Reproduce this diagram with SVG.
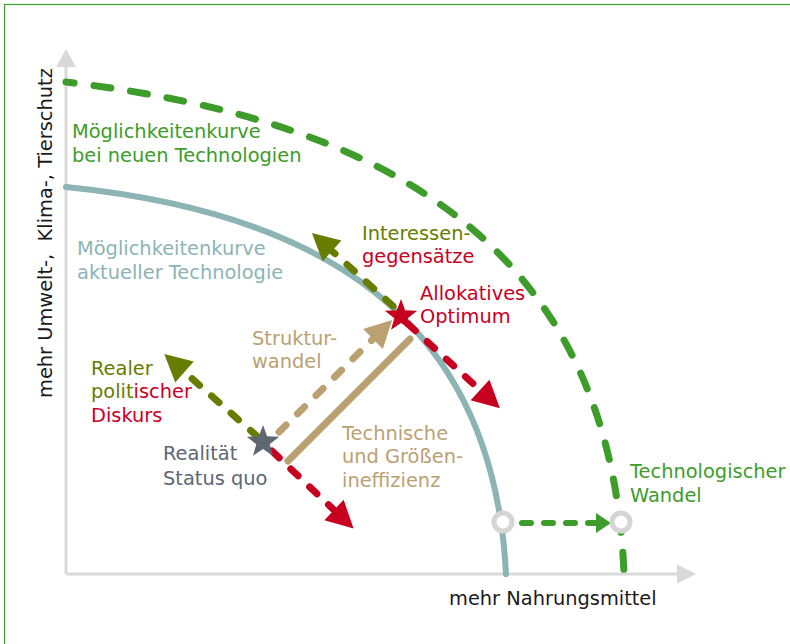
<svg xmlns="http://www.w3.org/2000/svg" width="790" height="644" viewBox="0 0 790 644">
<style>
text{font-family:"DejaVu Sans","Open Sans",sans-serif;font-size:19.4px}
.g{fill:#3d9c2a}.tl{fill:#8cb4b4}.ol{fill:#677d00}.rd{fill:#c8001f}.tn{fill:#bba072}.gy{fill:#5e6672}.bk{fill:#1a1a1a}
.dash{fill:none;stroke-width:7;stroke-linecap:round;stroke-dasharray:10 16}
</style>
<defs>
<polygon id="star" points="0,-17 4.11,-5.66 16.17,-5.25 6.66,2.16 9.99,13.75 0,7 -9.99,13.75 -6.66,2.16 -16.17,-5.25 -4.11,-5.66"/>
<marker id="aOl" markerUnits="userSpaceOnUse" markerWidth="30" markerHeight="30" refX="0" refY="0" viewBox="0 -15 28 30" orient="auto"><path d="M0,-14 L27,0 L0,14 Z" fill="#677d00"/></marker>
<marker id="aRd" markerUnits="userSpaceOnUse" markerWidth="30" markerHeight="30" refX="0" refY="0" viewBox="0 -15 28 30" orient="auto"><path d="M0,-14 L27,0 L0,14 Z" fill="#c8001f"/></marker>
<marker id="aTn" markerUnits="userSpaceOnUse" markerWidth="30" markerHeight="30" refX="0" refY="0" viewBox="0 -15 28 30" orient="auto"><path d="M0,-14 L27,0 L0,14 Z" fill="#bba072"/></marker>
<marker id="aGr" markerUnits="userSpaceOnUse" markerWidth="20" markerHeight="22" refX="0" refY="0" viewBox="0 -11 16 22" orient="auto"><path d="M0,-10 L15,0 L0,10 Z" fill="#3d9c2a"/></marker>
</defs>
<rect x="4.5" y="4.5" width="800" height="700" fill="#fff" stroke="#3d9c2a" stroke-width="1.2"/>
<g id="axes">
<line x1="66" y1="66" x2="66" y2="574" stroke="#d9d9d9" stroke-width="3"/>
<line x1="66" y1="574" x2="678" y2="574" stroke="#d9d9d9" stroke-width="3"/>
<polygon points="66,49 56,67 76,67" fill="#d9d9d9"/>
<polygon points="696,574 677,564.5 677,583.5" fill="#d9d9d9"/>
<text class="bk" transform="translate(52,398) rotate(-90)">mehr Umwelt-,&#160; Klima-, Tierschutz</text>
<text class="bk" x="449" y="605">mehr Nahrungsmittel</text>
</g>
<g id="curve-new">
<path d="M66,82 C384,120 611,244 624,574" fill="none" stroke="#3d9c2a" stroke-width="7" stroke-linecap="round" stroke-dasharray="17 20" stroke-dashoffset="9"/>
<text class="g" x="72" y="138">Möglichkeitenkurve</text>
<text class="g" x="72" y="162">bei neuen Technologien</text>
</g>
<g id="curve-current">
<path d="M66,187 C316,212 493,314 506,574" fill="none" stroke="#8cb4b4" stroke-width="6" stroke-linecap="round"/>
<text class="tl" x="77" y="255">Möglichkeitenkurve</text>
<text class="tl" x="77" y="279">aktueller Technologie</text>
</g>
<g id="connectors">
<path class="dash" d="M258,437 L184.5,372" stroke="#677d00" marker-end="url(#aOl)"/>
<path class="dash" d="M272,451 L334,510" stroke="#c8001f" marker-end="url(#aRd)"/>
<path class="dash" d="M279,432 L373,339" stroke="#bba072" marker-end="url(#aTn)"/>
<path d="M288,461 L410,339" fill="none" stroke="#bba072" stroke-width="7" stroke-linecap="round"/>
<path class="dash" d="M393,306 L332,251" stroke="#677d00" marker-end="url(#aOl)"/>
<path class="dash" d="M408,324 L480,390" stroke="#c8001f" marker-end="url(#aRd)"/>
<path d="M522,523 L596,523" fill="none" stroke="#3d9c2a" stroke-width="6" stroke-linecap="round" stroke-dasharray="9 13" marker-end="url(#aGr)"/>
</g>
<g id="point-current"><circle cx="503" cy="522" r="9" fill="#fff" stroke="#d5d5d5" stroke-width="5"/></g>
<g id="point-new"><circle cx="621" cy="522" r="9" fill="#fff" stroke="#d5d5d5" stroke-width="5"/></g>
<g id="status-quo">
<use href="#star" transform="translate(263,442)" fill="#5e6672"/>
<text class="gy" x="163" y="460">Realität</text>
<text class="gy" x="163" y="485">Status quo</text>
</g>
<g id="optimum">
<use href="#star" transform="translate(401,316)" fill="#c8001f"/>
<text class="rd" x="420" y="300">Allokatives</text>
<text class="rd" x="420" y="323">Optimum</text>
</g>
<g id="label-interessen">
<text class="ol" x="362" y="240">Interessen-</text>
<text class="rd" x="362" y="263">gegensätze</text>
</g>
<g id="label-strukturwandel">
<text class="tn" x="252" y="345">Struktur-</text>
<text class="tn" x="252" y="368">wandel</text>
</g>
<g id="label-ineffizienz">
<text class="tn" x="342" y="440">Technische</text>
<text class="tn" x="342" y="463">und Größen-</text>
<text class="tn" x="342" y="487">ineffizienz</text>
</g>
<g id="label-diskurs">
<text class="ol" x="91" y="375">Realer</text>
<text class="ol" x="91" y="398">polit<tspan class="rd">ischer</tspan></text>
<text class="rd" x="91" y="422">Diskurs</text>
</g>
<g id="label-techwandel">
<text class="g" x="630" y="478">Technologischer</text>
<text class="g" x="630" y="502">Wandel</text>
</g>
</svg>
